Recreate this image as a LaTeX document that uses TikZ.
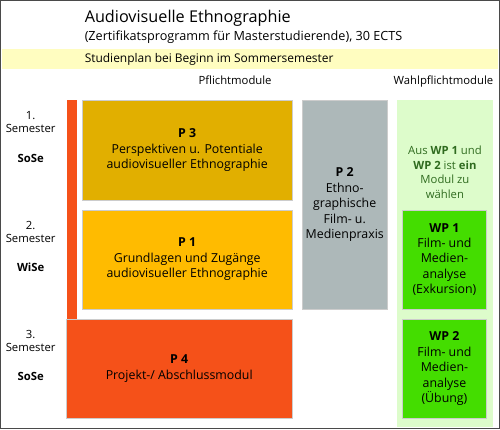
\documentclass[tikz,border=0pt]{standalone}
\usepackage{fontspec}
\setmainfont{Open Sans}
\definecolor{frame}{HTML}{4A4A4A}
\definecolor{bandcol}{HTML}{FFFDC0}
\definecolor{orangecol}{HTML}{F55119}
\definecolor{pthree}{HTML}{E1AF00}
\definecolor{pone}{HTML}{FFBB00}
\definecolor{ptwo}{HTML}{ADB8B9}
\definecolor{wpbg}{HTML}{DDFCCB}
\definecolor{wpcol}{HTML}{44DD00}
\definecolor{wptext}{HTML}{2F6B1F}
\tikzset{
  modbox/.style={rectangle, draw=white!80!black, line width=0.3pt, align=center,
    font=\fontsize{9.3}{11.6}\selectfont, inner sep=0pt},
  semlabel/.style={align=center, font=\fontsize{8.5}{10}\selectfont},
  headlabel/.style={font=\fontsize{8.5}{10}\selectfont}
}
\begin{document}
\begin{tikzpicture}[x=0.75pt,y=-0.75pt]

% frame and background
\fill[white] (0,0) rectangle (500,429);
\fill[bandcol] (1,48) rectangle (499,68);
\fill[wpbg] (397,100) rectangle (494,428);
\draw[frame, line width=1.1pt] (0,0) rectangle (500,429);

% title
\node[anchor=base west, inner sep=0pt, font=\fontsize{12.2}{15}\selectfont] (title) at (84,22) {Audiovisuelle Ethnographie};
\node[anchor=base west, inner sep=0pt, font=\fontsize{9.5}{11}\selectfont] (subtitle) at (84,40) {(Zertifikatsprogramm für Masterstudierende), 30 ECTS};
\node[anchor=base west, inner sep=0pt, font=\fontsize{9}{11}\selectfont] (plan) at (84,62) {Studienplan bei Beginn im Sommersemester};

% column heads
\node[headlabel, anchor=base] (pflicht) at (235,84) {Pflichtmodule};
\node[headlabel, anchor=base] (wahl) at (444,84) {Wahlpflichtmodule};

% semester labels
\node[semlabel] (sem1) at (30,122) {1.\\Semester};
\node[semlabel, font=\fontsize{8.5}{10}\bfseries] (sose1) at (30,158) {SoSe};
\node[semlabel] (sem2) at (30,232) {2.\\Semester};
\node[semlabel, font=\fontsize{8.5}{10}\bfseries] (wise2) at (30,267) {WiSe};
\node[semlabel] (sem3) at (30,341) {3.\\Semester};
\node[semlabel, font=\fontsize{8.5}{10}\bfseries] (sose3) at (30,377) {SoSe};

% orange bar down to P 4
\fill[orangecol] (66,100) rectangle (76,320);

% modules
\node[modbox, fill=pthree, minimum width=158.25pt, minimum height=75pt] (p3) at (187,150)
  {\textbf{P 3}\\Perspektiven u. Potentiale\\audiovisueller Ethnographie};
\node[modbox, fill=pone, minimum width=158.25pt, minimum height=74.25pt] (p1) at (187,259.5)
  {\textbf{P 1}\\Grundlagen und Zugänge\\audiovisueller Ethnographie};
\node[modbox, fill=ptwo, minimum width=64.5pt, minimum height=156.75pt] (p2) at (345,204.5)
  {\textbf{P 2}\\Ethno-\\graphische\\Film- u.\\Medienpraxis};
\node[modbox, fill=orangecol, minimum width=169.5pt, minimum height=75pt] (p4) at (179,369)
  {\textbf{P 4}\\Projekt-/ Abschlussmodul};

% elective modules
\node[align=center, text=wptext, font=\fontsize{8.5}{10.8}\selectfont] (hint) at (445.5,172)
  {Aus \textbf{WP 1} und\\\textbf{WP 2} ist \textbf{ein}\\Modul zu\\wählen};
\node[modbox, fill=wpcol, minimum width=63pt, minimum height=74.25pt] (wp1) at (445,259.5)
  {\textbf{WP 1}\\Film- und\\Medien-\\analyse\\(Exkursion)};
\node[modbox, fill=wpcol, minimum width=63pt, minimum height=75pt] (wp2) at (445,369)
  {\textbf{WP 2}\\Film- und\\Medien-\\analyse\\(Übung)};

\end{tikzpicture}
\end{document}
